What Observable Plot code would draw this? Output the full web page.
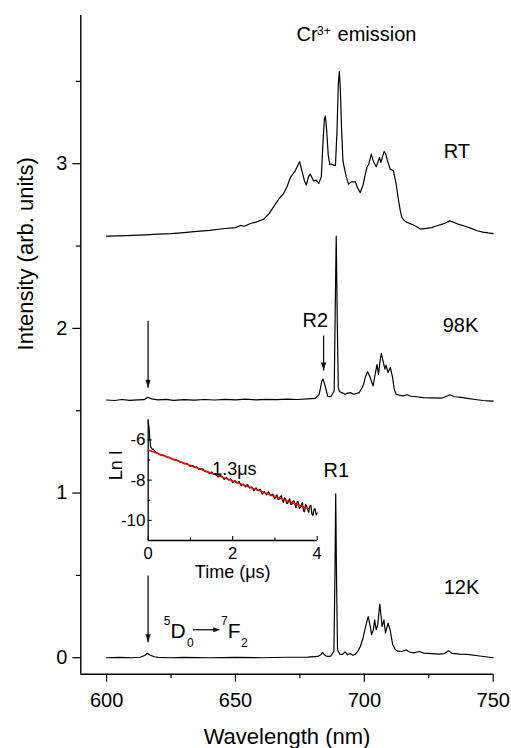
<!DOCTYPE html>
<html>
<head>
<meta charset="utf-8">
<script src="https://cdn.jsdelivr.net/npm/d3@7"></script>
<script src="https://cdn.jsdelivr.net/npm/@observablehq/plot@0.6"></script>
<style>
  html, body { margin: 0; padding: 0; background: #fff; overflow: hidden; }
  #figure { position: relative; width: 511px; height: 748px; }
  #figure svg { position: absolute; }
</style>
</head>
<body>
<div id="figure"></div>
<script>
// Cr3+ emission spectra at three temperatures: [wavelength (nm), intensity (arb. units, offset)]
const spectrum12K = [
  [600, 0.000], [605, 0.002], [610, 0.000], [613, 0.003], [615, 0.015], [615.8, 0.027], [617, 0.015],
  [618.5, 0.006], [620, 0.002], [625, 0.000], [630, 0.002], [640, 0.000], [650, 0.002], [660, 0.000],
  [670, 0.003], [678, 0.004], [682, 0.008], [683.2, 0.020], [683.8, 0.032], [684.5, 0.018],
  [685.5, 0.008], [687, 0.010], [688.2, 0.040], [688.6, 0.500], [688.9, 0.995], [689.2, 0.500],
  [689.6, 0.050], [690.5, 0.020], [691.5, 0.020], [692.5, 0.036], [693.5, 0.018], [694.5, 0.026],
  [695.5, 0.015], [696.5, 0.020], [697.5, 0.040], [698.5, 0.070], [699.5, 0.120], [700.5, 0.190],
  [701.5, 0.250], [702.2, 0.200], [702.8, 0.140], [703.5, 0.170], [704.0, 0.230], [704.6, 0.170],
  [705.2, 0.200], [706.0, 0.326], [706.9, 0.190], [707.6, 0.230], [708.2, 0.150], [709.2, 0.210],
  [710.0, 0.170], [711.0, 0.080], [712.0, 0.050], [713, 0.040], [714.5, 0.038], [716.3, 0.047],
  [717.5, 0.035], [719, 0.030], [721.5, 0.038], [723, 0.028], [726, 0.025], [729, 0.022],
  [731, 0.025], [732.7, 0.043], [734, 0.026], [737, 0.022], [740, 0.020], [744, 0.012],
  [747, 0.006], [750, 0.000]
];

const spectrum98K = [
  [600, 1.565], [603, 1.562], [606, 1.568], [609, 1.563], [612, 1.566], [614.5, 1.567], [616, 1.582],
  [617.5, 1.572], [620, 1.566], [623, 1.569], [626, 1.563], [630, 1.567], [634, 1.564], [638, 1.568],
  [642, 1.565], [646, 1.569], [650, 1.566], [654, 1.570], [658, 1.566], [662, 1.569], [666, 1.567],
  [670, 1.570], [674, 1.568], [678, 1.572], [681, 1.575], [682.5, 1.600], [683.5, 1.680],
  [684.0, 1.692], [684.8, 1.650], [685.8, 1.587], [687, 1.585], [688.3, 1.620], [688.7, 2.100],
  [689.1, 2.560], [689.5, 2.050], [689.9, 1.640], [690.4, 1.615], [691.3, 1.610], [692.5, 1.600],
  [693.5, 1.607], [694.6, 1.610], [695.8, 1.600], [697, 1.605], [698, 1.610], [699, 1.635],
  [699.7, 1.660], [700.5, 1.710], [701.3, 1.737], [702.3, 1.700], [703.4, 1.650], [704.2, 1.720],
  [704.9, 1.780], [705.5, 1.720], [706.0, 1.790], [706.6, 1.848], [707.3, 1.800], [708.0, 1.753],
  [708.4, 1.777], [709.2, 1.732], [710.1, 1.763], [711.0, 1.700], [711.6, 1.630], [712.3, 1.600],
  [713.5, 1.595], [715, 1.590], [716.6, 1.597], [718, 1.588], [720, 1.585], [723, 1.580],
  [726, 1.578], [730, 1.576], [733.2, 1.597], [735, 1.585], [737, 1.582], [740, 1.575],
  [743, 1.568], [746, 1.562], [748, 1.560], [750, 1.558]
];

const spectrumRT = [
  [600, 2.560], [605, 2.562], [610, 2.565], [615, 2.568], [620, 2.572], [625, 2.576], [630, 2.582],
  [635, 2.589], [640, 2.595], [645, 2.605], [650, 2.612], [652, 2.625], [653.5, 2.620],
  [655.8, 2.637], [658, 2.645], [660.9, 2.663], [662.9, 2.694], [665.5, 2.755], [667, 2.790],
  [668.7, 2.819], [670, 2.860], [671.3, 2.916], [673.2, 2.957], [674.9, 3.013], [675.8, 2.957],
  [676.7, 2.900], [677.5, 2.870], [678.3, 2.920], [679.0, 2.937], [680.3, 2.896], [681.3, 2.900],
  [682.3, 2.880], [683.3, 2.920], [684.0, 3.140], [684.5, 3.270], [684.9, 3.290], [685.4, 3.200],
  [686.0, 3.050], [686.6, 2.995], [687.1, 2.998], [688.2, 2.990], [688.8, 2.990], [689.4, 3.200],
  [689.9, 3.480], [690.3, 3.560], [690.7, 3.450], [691.2, 3.200], [691.7, 3.020], [692.2, 2.977],
  [693.0, 2.920], [693.9, 2.876], [695.0, 2.890], [696.5, 2.890], [697.5, 2.850], [698.4, 2.825],
  [699.5, 2.870], [700.3, 2.930], [701.0, 2.977], [701.8, 3.000], [702.7, 3.058], [703.6, 3.010],
  [704.6, 2.981], [705.9, 3.038], [706.4, 3.007], [707.0, 3.040], [707.7, 3.074], [708.3, 3.060],
  [709.0, 3.018], [710.0, 2.967], [711.3, 2.957], [712.3, 2.880], [713.3, 2.775], [714.0, 2.710],
  [714.6, 2.673], [715.5, 2.655], [716.6, 2.643], [718, 2.635], [720, 2.620], [721.7, 2.603],
  [724, 2.607], [726, 2.612], [728.2, 2.623], [730, 2.632], [731.5, 2.640], [733.1, 2.653],
  [734.5, 2.645], [736, 2.635], [738.5, 2.623], [741, 2.610], [743.7, 2.593], [746, 2.585],
  [748, 2.580], [750, 2.576]
];

// Luminescence decay of the R1 line: [time (µs), ln I]
const decay = [
  [0.00, -5.05], [0.02, -5.40], [0.04, -6.00], [0.06, -6.35], [0.08, -6.42], [0.10, -6.47],
  [0.12, -6.45], [0.15, -6.56], [0.20, -6.63], [0.25, -6.70], [0.30, -6.76], [0.35, -6.75],
  [0.40, -6.80], [0.45, -6.88], [0.50, -6.86], [0.55, -6.93], [0.60, -6.99], [0.65, -6.98],
  [0.70, -7.01], [0.75, -7.10], [0.80, -7.11], [0.85, -7.19], [0.90, -7.16], [0.95, -7.22],
  [1.00, -7.32], [1.05, -7.27], [1.10, -7.37], [1.15, -7.34], [1.20, -7.48], [1.25, -7.44],
  [1.30, -7.45], [1.35, -7.58], [1.40, -7.57], [1.45, -7.68], [1.50, -7.59], [1.55, -7.71],
  [1.60, -7.69], [1.65, -7.84], [1.70, -7.76], [1.75, -7.83], [1.80, -7.96], [1.85, -7.86],
  [1.90, -7.99], [1.95, -7.93], [2.00, -8.12], [2.05, -8.03], [2.10, -8.14], [2.15, -8.06],
  [2.20, -8.28], [2.25, -8.20], [2.30, -8.33], [2.35, -8.21], [2.40, -8.39], [2.45, -8.33],
  [2.50, -8.52], [2.55, -8.38], [2.60, -8.53], [2.65, -8.45], [2.70, -8.69], [2.75, -8.57],
  [2.80, -8.73], [2.85, -8.58], [2.90, -8.78], [2.95, -8.69], [3.00, -8.94], [3.025, -8.78],
  [3.05, -8.73], [3.075, -8.97], [3.10, -8.95], [3.125, -8.82], [3.15, -8.78], [3.175, -8.99],
  [3.20, -9.11], [3.225, -8.88], [3.25, -8.93], [3.275, -9.16], [3.30, -9.16], [3.325, -9.02],
  [3.35, -8.93], [3.375, -9.21], [3.40, -9.20], [3.425, -9.05], [3.45, -9.03], [3.475, -9.22],
  [3.50, -9.37], [3.525, -9.07], [3.55, -9.07], [3.575, -9.40], [3.60, -9.37], [3.625, -9.23],
  [3.65, -9.11], [3.675, -9.52], [3.70, -9.57], [3.725, -9.20], [3.75, -9.29], [3.775, -9.48],
  [3.80, -9.60], [3.825, -9.29], [3.85, -9.24], [3.875, -9.69], [3.90, -9.75], [3.925, -9.44],
  [3.95, -9.42], [3.975, -9.73], [4.00, -9.63]
];

// Single-exponential fit: lifetime (µs), intercept and end of the fitted range
const lifetime = 1.3;
const fitIntercept = -6.5;
const fitRange = [0, 3.8];

// Tick values
const wavelengthTicks = [600, 650, 700, 750];
const wavelengthMinorTicks = [625, 675, 725];
const intensityTicks = [0, 1, 2, 3];
const intensityMinorTicks = [0.5, 1.5, 2.5, 3.5];
const timeTicks = [0, 2, 4];
const timeMinorTicks = [1, 3];
const lnTicks = [-6, -8, -10];
const lnMinorTicks = [-7, -9];

const font = '"Liberation Sans", Arial, Helvetica, sans-serif';
const rows = (pairs) => pairs.map(([x, y]) => ({x, y}));

// Filled arrow heads, tip at the origin
const headDown = {draw(c) { c.moveTo(0, 0); c.lineTo(-2.6, -8); c.lineTo(2.6, -8); c.closePath(); }};
const headRight = {draw(c) { c.moveTo(0, 0); c.lineTo(-7, -2.5); c.lineTo(-7, 2.5); c.closePath(); }};

const downArrows = [
  {x: 616.1, y1: 2.047, y2: 1.639},
  {x: 684.2, y1: 1.956, y2: 1.744},
  {x: 616.1, y1: 0.499, y2: 0.094}
];

const label = (text, x, y, opts = {}) =>
  Plot.text([{x, y, text}], {x: "x", y: "y", text: "text", fontSize: 20, textAnchor: "start", lineAnchor: "bottom", ...opts});

const main = Plot.plot({
  width: 511,
  height: 748,
  marginLeft: 80.3,
  marginRight: 18.3,
  marginTop: 15,
  marginBottom: 74.3,
  style: {fontFamily: font, color: "#000", background: "transparent", overflow: "visible"},
  x: {domain: [590, 750]},
  y: {domain: [-0.1, 3.9]},
  marks: [
    Plot.axisX({ticks: wavelengthTicks, tickSize: 8, tickPadding: 11, fontSize: 20, strokeWidth: 1.2, label: null, tickFormat: (d) => String(d)}),
    Plot.axisX({ticks: wavelengthMinorTicks, tickSize: 4.5, strokeWidth: 1.2, fill: "none", label: null}),
    Plot.axisY({ticks: intensityTicks, tickSize: 8, tickPadding: 5.5, fontSize: 20, strokeWidth: 1.2, label: null, tickFormat: (d) => String(d)}),
    Plot.axisY({ticks: intensityMinorTicks, tickSize: 4.5, strokeWidth: 1.2, fill: "none", label: null}),
    Plot.ruleX([590], {stroke: "#000", strokeWidth: 1.4}),
    Plot.ruleY([-0.1], {stroke: "#000", strokeWidth: 1.4}),

    Plot.line(rows(spectrum12K), {x: "x", y: "y", stroke: "#000", strokeWidth: 1.2}),
    Plot.line(rows(spectrum98K), {x: "x", y: "y", stroke: "#000", strokeWidth: 1.2}),
    Plot.line(rows(spectrumRT), {x: "x", y: "y", stroke: "#000", strokeWidth: 1.2}),

    // Arrows marking the weak lines
    Plot.link(downArrows, {x1: "x", x2: "x", y1: "y1", y2: "y2", stroke: "#111", strokeWidth: 1.3}),
    Plot.dot(downArrows, {x: "x", y: "y2", symbol: headDown, fill: "#111", stroke: "none"}),

    // Series and line labels
    label("RT", 730.8, 3.035),
    label("98K", 730.4, 1.976),
    label("12K", 730.8, 0.388),
    label("R2", 681.0, 2.011, {textAnchor: "middle"}),
    label("R1", 689.1, 1.100, {textAnchor: "middle"}),

    // Cr3+ emission
    label("Cr", 673.7, 3.746),
    label("3+", 673.7, 3.746, {fontSize: 12, dx: 20.5, dy: -6}),
    label("emission", 673.7, 3.746, {dx: 41}),

    // 5D0 -> 7F2 transition
    label("5", 622.1, 0.121, {fontSize: 12, dx: 0.3, dy: -13}),
    label("D", 622.1, 0.121, {fontSize: 21, dx: 6.9}),
    label("0", 622.1, 0.121, {fontSize: 12, dx: 23.4, dy: 9}),
    Plot.link([{x1: 633.5, x2: 642, y: 0.17}], {x1: "x1", x2: "x2", y1: "y", y2: "y", stroke: "#111", strokeWidth: 1.3}),
    Plot.dot([{x: 644.1, y: 0.17}], {x: "x", y: "y", symbol: headRight, fill: "#111", stroke: "none"}),
    label("7", 622.1, 0.121, {fontSize: 12, dx: 57.4, dy: -13}),
    label("F", 622.1, 0.121, {fontSize: 21, dx: 64.3}),
    label("2", 622.1, 0.121, {fontSize: 12, dx: 77.4, dy: 9}),

    // Axis titles
    Plot.text(["Wavelength (nm)"], {frameAnchor: "bottom", dy: 69.6, lineAnchor: "bottom", fontSize: 22}),
    Plot.text(["Intensity (arb. units)"], {frameAnchor: "left", rotate: -90, dx: -48.3, dy: 5.6, lineAnchor: "bottom", fontSize: 22})
  ]
});

// Inset: decay curve with exponential fit
const fit = fitRange.map((t) => ({x: t, y: fitIntercept - t / lifetime}));
const fitLabelAt = {x: 1.515, y: -7.75};

const inset = Plot.plot({
  width: 240,
  height: 190,
  marginLeft: 52.7,
  marginRight: 18.3,
  marginTop: 19.3,
  marginBottom: 50,
  style: {fontFamily: font, color: "#000", background: "transparent", overflow: "visible"},
  x: {domain: [0, 4]},
  y: {domain: [-11, -5]},
  marks: [
    Plot.axisX({ticks: timeTicks, tickSize: 0, tickPadding: 7, fontSize: 16.5, label: null, tickFormat: (d) => String(d)}),
    Plot.axisX({ticks: timeTicks, tickSize: 4, dy: -4, strokeWidth: 1.1, fill: "none", label: null}),
    Plot.axisX({ticks: timeMinorTicks, tickSize: 2.5, dy: -2.5, strokeWidth: 1.1, fill: "none", label: null}),
    Plot.axisY({ticks: lnTicks, tickSize: 0, tickPadding: 2.7, fontSize: 17, label: null, tickFormat: (d) => String(d)}),
    Plot.axisY({ticks: lnTicks, tickSize: 4, dx: 4, strokeWidth: 1.1, fill: "none", label: null}),
    Plot.axisY({ticks: lnMinorTicks, tickSize: 2.5, dx: 2.5, strokeWidth: 1.1, fill: "none", label: null}),
    Plot.ruleX([0], {stroke: "#000", strokeWidth: 1.3}),
    Plot.ruleY([-11], {stroke: "#000", strokeWidth: 1.3}),
    Plot.line(rows(decay), {x: "x", y: "y", stroke: "#000", strokeWidth: 1.2}),
    Plot.line(fit, {x: "x", y: "y", stroke: "#ff0000", strokeWidth: 1.4}),
    Plot.text([`${lifetime}μs`], {x: fitLabelAt.x, y: fitLabelAt.y, textAnchor: "start", lineAnchor: "bottom", fontSize: 18}),
    Plot.text(["Time (μs)"], {frameAnchor: "bottom", dy: 37, lineAnchor: "bottom", fontSize: 18}),
    Plot.text(["Ln I"], {frameAnchor: "left", rotate: -90, dx: -26.7, lineAnchor: "bottom", fontSize: 18})
  ]
});

const figure = document.getElementById("figure");
main.style.left = "0px";
main.style.top = "0px";
inset.style.left = "95px";
inset.style.top = "400px";
figure.append(main, inset);
</script>
</body>
</html>
